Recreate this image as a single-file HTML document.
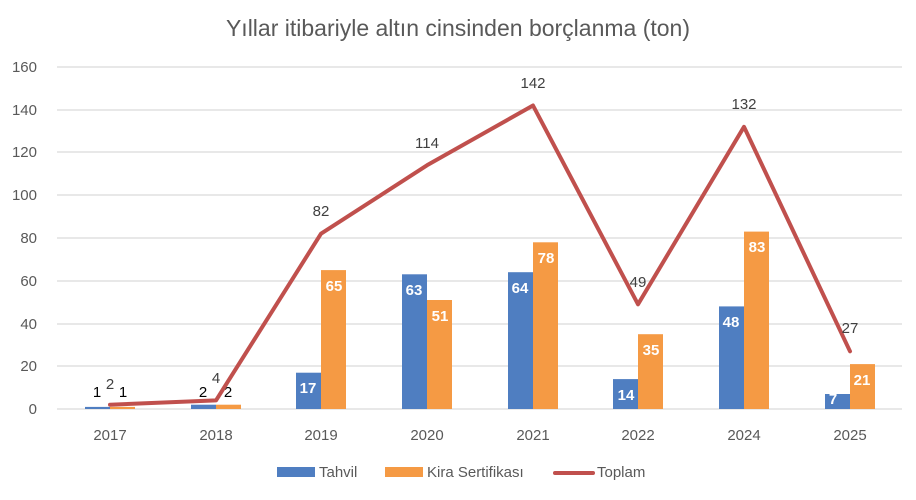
<!DOCTYPE html>
<html><head><meta charset="utf-8"><style>
body{margin:0;background:#fff}
svg{display:block;font-family:"Liberation Sans",sans-serif}
</style></head><body>
<svg width="916" height="500" viewBox="0 0 916 500">
<rect width="916" height="500" fill="#fff"/>
<text x="458" y="36" font-size="23" fill="#595959" text-anchor="middle">Yıllar itibariyle altın cinsinden borçlanma (ton)</text>
<g stroke="#d9d9d9" stroke-width="1.2">
<line x1="57" x2="902" y1="67" y2="67"/><line x1="57" x2="902" y1="110" y2="110"/><line x1="57" x2="902" y1="152" y2="152"/><line x1="57" x2="902" y1="195" y2="195"/><line x1="57" x2="902" y1="238" y2="238"/><line x1="57" x2="902" y1="281" y2="281"/><line x1="57" x2="902" y1="324" y2="324"/><line x1="57" x2="902" y1="366" y2="366"/><line x1="57" x2="902" y1="409" y2="409"/>
</g>
<g font-size="15" fill="#595959" text-anchor="end">
<text x="37" y="72">160</text><text x="37" y="115">140</text><text x="37" y="157">120</text><text x="37" y="200">100</text><text x="37" y="243">80</text><text x="37" y="286">60</text><text x="37" y="329">40</text><text x="37" y="371">20</text><text x="37" y="414">0</text>
</g>
<g font-size="15" fill="#595959" text-anchor="middle">
<text x="110" y="440">2017</text><text x="216" y="440">2018</text><text x="321" y="440">2019</text><text x="427" y="440">2020</text><text x="533" y="440">2021</text><text x="638" y="440">2022</text><text x="744" y="440">2024</text><text x="850" y="440">2025</text>
</g>
<g fill="#4f7ec1">
<rect x="85" y="406.9" width="25" height="2.1"/>
<rect x="191" y="404.7" width="25" height="4.3"/>
<rect x="296" y="372.7" width="25" height="36.3"/>
<rect x="402" y="274.3" width="25" height="134.7"/>
<rect x="508" y="272.2" width="25" height="136.8"/>
<rect x="613" y="379.1" width="25" height="29.9"/>
<rect x="719" y="306.4" width="25" height="102.6"/>
<rect x="825" y="394" width="25" height="15"/>
</g>
<g fill="#f59a44">
<rect x="110" y="406.9" width="25" height="2.1"/>
<rect x="216" y="404.7" width="25" height="4.3"/>
<rect x="321" y="270.1" width="25" height="138.9"/>
<rect x="427" y="300" width="25" height="109"/>
<rect x="533" y="242.3" width="25" height="166.7"/>
<rect x="638" y="334.2" width="25" height="74.8"/>
<rect x="744" y="231.6" width="25" height="177.4"/>
<rect x="850" y="364.1" width="25" height="44.9"/>
</g>
<g font-size="15" font-weight="bold" fill="#fff" text-anchor="middle">
<text x="308" y="393">17</text><text x="334" y="291">65</text>
<text x="414" y="295">63</text><text x="440" y="321">51</text>
<text x="520" y="293">64</text><text x="546" y="263">78</text>
<text x="626" y="400">14</text><text x="651" y="355">35</text>
<text x="731" y="327">48</text><text x="757" y="252">83</text>
<text x="862" y="385">21</text>
<text x="833" y="404">7</text>
</g>
<g font-size="15" fill="#000" text-anchor="middle">
<text x="97" y="397">1</text><text x="123" y="397">1</text>
<text x="203" y="397">2</text><text x="228" y="397">2</text>
</g>
<polyline fill="none" stroke="#c0504d" stroke-width="4" stroke-linejoin="round" stroke-linecap="round" points="110,404.7 216,400.4 321,233.7 427,165.3 533,105.5 638,304.3 744,126.8 850,351.3"/>
<g font-size="15" fill="#404040" text-anchor="middle">
<text x="110" y="389">2</text><text x="216" y="383">4</text>
<text x="321" y="216">82</text><text x="427" y="148">114</text><text x="533" y="88">142</text><text x="638" y="287">49</text><text x="744" y="109">132</text><text x="850" y="333">27</text>
</g>
<rect x="277" y="467" width="38" height="10" fill="#4f7ec1"/>
<text x="319" y="477" font-size="15" fill="#595959">Tahvil</text>
<rect x="385" y="467" width="38" height="10" fill="#f59a44"/>
<text x="427" y="477" font-size="15" fill="#595959">Kira Sertifikası</text>
<line x1="555" x2="593" y1="473" y2="473" stroke="#c0504d" stroke-width="4" stroke-linecap="round"/>
<text x="597" y="477" font-size="15" fill="#595959">Toplam</text>
</svg>
</body></html>
